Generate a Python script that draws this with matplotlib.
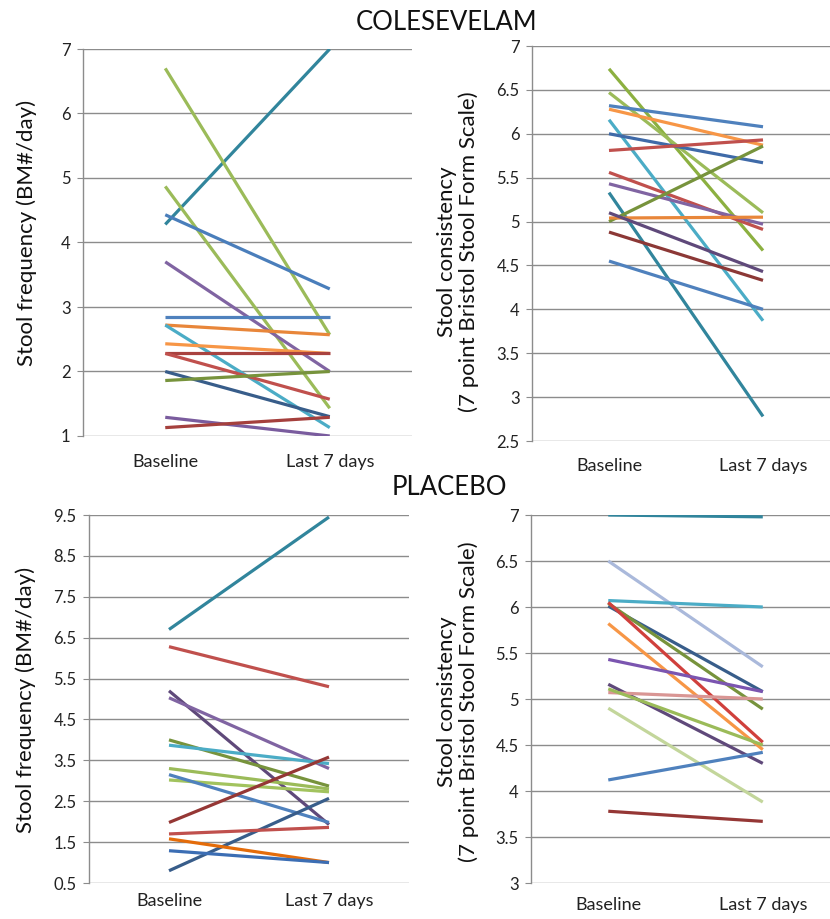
import numpy as np
import matplotlib
matplotlib.use("Agg")
import matplotlib.pyplot as plt

plt.rcParams["font.family"] = ["Lato", "DejaVu Sans"]

CATEGORIES = ["Baseline", "Last 7 days"]

# Colesevelam - stool frequency
col_freq_base = [4.28, 6.70, 4.87, 4.43, 3.70, 2.85, 2.72, 2.72, 2.43, 2.28, 2.28, 2.00, 1.86, 1.29, 1.13]
col_freq_last = [7.00, 2.57, 1.43, 3.28, 2.00, 2.85, 2.57, 1.13, 2.28, 2.28, 1.57, 1.30, 2.00, 1.00, 1.29]
col_freq_colors = ["#31859C", "#9BBB59", "#9BBB59", "#4A7EBB", "#8064A2", "#4F81BD", "#E8863A", "#4BACC6",
                   "#F79646", "#A9423F", "#C0504D", "#385D8A", "#77933C", "#7A5C9E", "#A5403D"]

# Colesevelam - stool consistency
col_cons_base = [6.74, 6.47, 6.32, 6.28, 6.16, 6.00, 5.81, 5.56, 5.43, 5.33, 5.00, 5.04, 5.10, 4.88, 4.55]
col_cons_last = [4.67, 5.10, 6.08, 5.87, 3.87, 5.67, 5.93, 4.91, 4.97, 2.78, 5.86, 5.05, 4.43, 4.33, 4.00]
col_cons_colors = ["#8CB040", "#9BBB59", "#4F81BD", "#F79646", "#4BACC6", "#3F6AA8", "#C0504D", "#C0504D",
                   "#8064A2", "#31859C", "#77933C", "#E8863A", "#5F497A", "#8C3836", "#4F81BD"]

# Placebo - stool frequency
pla_freq_base = [6.70, 6.28, 5.20, 5.03, 4.00, 3.87, 3.30, 3.02, 3.15, 1.98, 0.80, 1.70, 1.58, 1.29]
pla_freq_last = [9.45, 5.30, 1.93, 3.30, 2.87, 3.42, 2.80, 2.73, 1.98, 3.58, 2.57, 1.86, 1.00, 1.00]
pla_freq_colors = ["#31859C", "#C0504D", "#5F497A", "#8064A2", "#77933C", "#4BACC6", "#9BBB59", "#A2C35E",
                   "#4F81BD", "#953735", "#385D8A", "#C0504D", "#E46C0A", "#3C6EB4"]

# Placebo - stool consistency
pla_cons_base = [7.00, 6.50, 6.07, 6.01, 6.04, 6.05, 5.82, 5.43, 5.16, 5.07, 5.11, 4.90, 4.12, 3.78]
pla_cons_last = [6.98, 5.35, 6.00, 5.08, 4.89, 4.53, 4.45, 5.08, 4.30, 5.00, 4.50, 3.88, 4.42, 3.67]
pla_cons_colors = ["#31859C", "#AAB9DB", "#4BACC6", "#385D8A", "#77933C", "#D0403C", "#F79646", "#7B55B0",
                   "#5F497A", "#D99694", "#9BBB59", "#C3D69B", "#4F81BD", "#953735"]

GRID = "#8C8C8C"
FREQ_LABEL = "Stool frequency (BM#/day)"
CONS_LABEL = "Stool consistency\n(7 point Bristol Stool Form Scale)"

W, H = 830, 919
fig = plt.figure(figsize=(W / 100, H / 100), dpi=100)


def make_axes(x0, x1, y0, y1):
    return fig.add_axes([x0 / W, 1 - y1 / H, (x1 - x0) / W, (y1 - y0) / H])


def draw_panel(ax, base, last, colors, ylim, yticks, xlim, xpad):
    x = np.arange(len(CATEGORIES))
    for b, l, c in zip(base, last, colors):
        ax.plot(x, [b, l], color=c, lw=2.3, solid_capstyle="butt")
    ax.set_xlim(*xlim)
    ax.set_ylim(*ylim)
    ax.set_yticks(yticks)
    ax.set_yticklabels([f"{t:g}" for t in yticks])
    ax.set_xticks(x)
    ax.set_xticklabels(CATEGORIES)
    ax.yaxis.grid(True, color=GRID, lw=1.0)
    ax.set_axisbelow(True)
    for s in ["top", "right", "bottom"]:
        ax.spines[s].set_visible(False)
    ax.spines["left"].set_color(GRID)
    ax.spines["left"].set_linewidth(1.0)
    ax.tick_params(axis="y", length=4, color=GRID, labelsize=12, pad=5, labelcolor="#222222")
    ax.tick_params(axis="x", length=0, labelsize=13, pad=xpad, labelcolor="#222222")


ax1 = make_axes(83, 412, 49, 436)
draw_panel(ax1, col_freq_base, col_freq_last, col_freq_colors, (1, 7), np.arange(1, 7.01, 1),
           (-0.5, 1.5), 13)

ax2 = make_axes(532, 830, 46, 441)
draw_panel(ax2, col_cons_base, col_cons_last, col_cons_colors, (2.5, 7), np.arange(2.5, 7.01, 0.5),
           (-0.5, 1.435), 12)

ax3 = make_axes(89, 409, 515, 883)
draw_panel(ax3, pla_freq_base, pla_freq_last, pla_freq_colors, (0.5, 9.5), np.arange(0.5, 9.51, 1),
           (-0.5, 1.5), 7)

ax4 = make_axes(531, 830, 515, 883)
draw_panel(ax4, pla_cons_base, pla_cons_last, pla_cons_colors, (3, 7), np.arange(3, 7.01, 0.5),
           (-0.5, 1.435), 10)

fig.text(447 / W, 1 - 22 / H, "COLESEVELAM", ha="center", va="center", fontsize=18.5, color="#111111")
fig.text(449 / W, 1 - 488 / H, "PLACEBO", ha="center", va="center", fontsize=18.5, color="#111111")

fig.text(27 / W, 1 - 233 / H, FREQ_LABEL, rotation=90, ha="center", va="center", fontsize=16, color="#111111")
fig.text(26 / W, 1 - 700 / H, FREQ_LABEL, rotation=90, ha="center", va="center", fontsize=16, color="#111111")
fig.text(458 / W, 1 - 252 / H, CONS_LABEL, rotation=90, ha="center", va="center", fontsize=16,
         color="#111111", multialignment="center", linespacing=1.05)
fig.text(458 / W, 1 - 702 / H, CONS_LABEL, rotation=90, ha="center", va="center", fontsize=16,
         color="#111111", multialignment="center", linespacing=1.05)

fig.savefig("out.png", dpi=100)
